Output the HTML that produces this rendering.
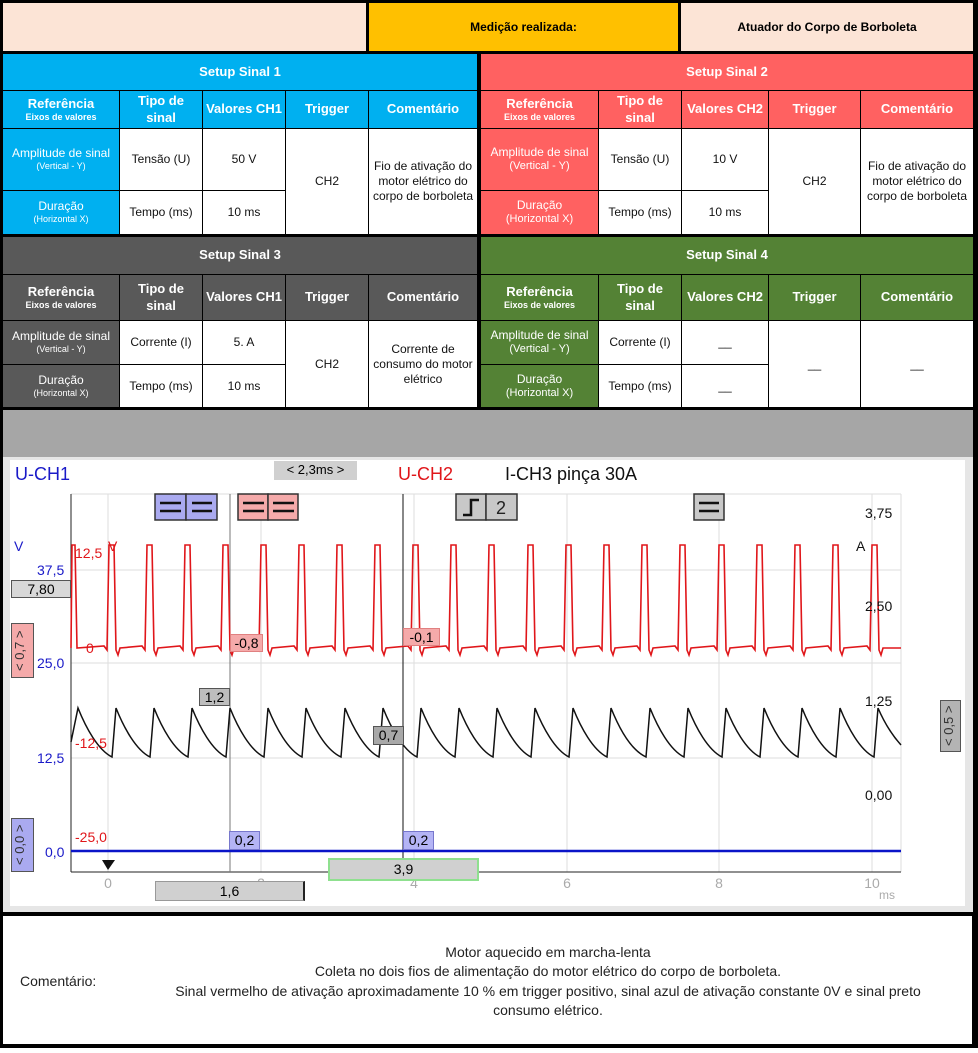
<!DOCTYPE html>
<html><head><meta charset="utf-8"><style>
*{margin:0;padding:0;box-sizing:border-box}
body{width:978px;height:1053px;background:#fff;font-family:"Liberation Sans",sans-serif;position:relative;overflow:hidden}
.abs{position:absolute}
table{position:absolute;border-collapse:separate;border-spacing:1px;background:#000;table-layout:fixed}
td{text-align:center;vertical-align:middle;font-size:12px;color:#111;background:#fff;line-height:1.25}
td.h{color:#fff;font-weight:bold;font-size:13px}
td.r{color:#fff;font-size:12px}
td.r small{font-size:9px;display:block}
td.h small{font-size:9px;display:block}
.b1{background:#00b0f0}.b2{background:#ff6161}.b3{background:#595959}.b4{background:#548235}
.box{position:absolute;font-size:14px;text-align:center;border:1px solid #555}
.vt{position:absolute;writing-mode:vertical-rl;transform:rotate(180deg);font-size:13px;text-align:center;border:1px solid #555}
</style></head><body>
<div class="abs" style="left:0;top:0;width:978px;height:410px;background:#000"></div>
<div class="abs" style="left:3px;top:3px;width:363px;height:48px;background:#fce4d6"></div>
<div class="abs" style="left:369px;top:3px;width:309px;height:48px;background:#ffc000;font-size:12px;font-weight:bold;line-height:48px;text-align:center">Medição realizada:</div>
<div class="abs" style="left:681px;top:3px;width:292px;height:48px;background:#fce4d6;font-size:12px;font-weight:bold;line-height:48px;text-align:center">Atuador do Corpo de Borboleta</div>

<table style="left:2px;top:53px;width:476px;height:182px">
<colgroup><col style="width:116px"><col style="width:82px"><col style="width:82px"><col style="width:82px"><col></colgroup>
<tr style="height:36px"><td class="h b1" colspan="5">Setup Sinal 1</td></tr>
<tr style="height:37px"><td class="h b1">Referência<small>Eixos de valores</small></td><td class="h b1">Tipo de<br>sinal</td><td class="h b1">Valores CH1</td><td class="h b1">Trigger</td><td class="h b1">Comentário</td></tr>
<tr style="height:61px"><td class="r b1">Amplitude de sinal<small>(Vertical - Y)</small></td><td>Tensão (U)</td><td>50 V</td><td rowspan="2">CH2</td><td rowspan="2">Fio de ativação do motor elétrico do corpo de borboleta</td></tr>
<tr><td class="r b1">Duração<small>(Horizontal X)</small></td><td>Tempo (ms)</td><td>10 ms</td></tr>
</table>
<table style="left:480px;top:53px;width:494px;height:182px">
<colgroup><col style="width:117px"><col style="width:82px"><col style="width:86px"><col style="width:91px"><col></colgroup>
<tr style="height:36px"><td class="h b2" colspan="5">Setup Sinal 2</td></tr>
<tr style="height:37px"><td class="h b2">Referência<small>Eixos de valores</small></td><td class="h b2">Tipo de<br>sinal</td><td class="h b2">Valores CH2</td><td class="h b2">Trigger</td><td class="h b2">Comentário</td></tr>
<tr style="height:61px"><td class="r b2">Amplitude de sinal<small style="font-size:11px">(Vertical - Y)</small></td><td>Tensão (U)</td><td>10 V</td><td rowspan="2">CH2</td><td rowspan="2">Fio de ativação do motor elétrico do corpo de borboleta</td></tr>
<tr><td class="r b2">Duração<small style="font-size:11px">(Horizontal X)</small></td><td>Tempo (ms)</td><td>10 ms</td></tr>
</table>
<table style="left:2px;top:236px;width:476px;height:172px">
<colgroup><col style="width:116px"><col style="width:82px"><col style="width:82px"><col style="width:82px"><col></colgroup>
<tr style="height:37px"><td class="h b3" colspan="5">Setup Sinal 3</td></tr>
<tr style="height:45px"><td class="h b3">Referência<small>Eixos de valores</small></td><td class="h b3">Tipo de<br>sinal</td><td class="h b3">Valores CH1</td><td class="h b3">Trigger</td><td class="h b3">Comentário</td></tr>
<tr style="height:43px"><td class="r b3">Amplitude de sinal<small>(Vertical - Y)</small></td><td>Corrente (I)</td><td>5. A</td><td rowspan="2">CH2</td><td rowspan="2">Corrente de<br>consumo do motor<br>elétrico</td></tr>
<tr><td class="r b3">Duração<small>(Horizontal X)</small></td><td>Tempo (ms)</td><td>10 ms</td></tr>
</table>
<table style="left:480px;top:236px;width:494px;height:172px">
<colgroup><col style="width:117px"><col style="width:82px"><col style="width:86px"><col style="width:91px"><col></colgroup>
<tr style="height:37px"><td class="h b4" colspan="5">Setup Sinal 4</td></tr>
<tr style="height:45px"><td class="h b4">Referência<small>Eixos de valores</small></td><td class="h b4">Tipo de<br>sinal</td><td class="h b4">Valores CH2</td><td class="h b4">Trigger</td><td class="h b4">Comentário</td></tr>
<tr style="height:43px"><td class="r b4">Amplitude de sinal<small style="font-size:11px">(Vertical - Y)</small></td><td>Corrente (I)</td><td>__</td><td rowspan="2">__</td><td rowspan="2">__</td></tr>
<tr><td class="r b4">Duração<small style="font-size:11px">(Horizontal X)</small></td><td>Tempo (ms)</td><td>__</td></tr>
</table>

<div class="abs" style="left:0;top:408px;width:978px;height:506px;background:#000"></div>
<div class="abs" style="left:3px;top:410px;width:970px;height:47px;background:#a6a6a6"></div>
<div class="abs" style="left:3px;top:457px;width:970px;height:455px;background:#e6e6e6"></div>
<div class="abs" style="left:10px;top:460px;width:955px;height:446px;background:#fff"></div>

<svg class="abs" style="left:0;top:0" width="978" height="1053" font-family="Liberation Sans, sans-serif">
<g stroke="#ddd" stroke-width="1">
<line x1="71" y1="570" x2="901" y2="570"/><line x1="71" y1="663" x2="901" y2="663"/><line x1="71" y1="758" x2="901" y2="758"/><line x1="71" y1="851" x2="901" y2="851"/>
<line x1="108" y1="494" x2="108" y2="872"/><line x1="261" y1="494" x2="261" y2="872"/><line x1="414" y1="494" x2="414" y2="872"/><line x1="567" y1="494" x2="567" y2="872"/><line x1="719" y1="494" x2="719" y2="872"/><line x1="872" y1="494" x2="872" y2="872"/>
<line x1="71" y1="494" x2="901" y2="494"/><line x1="901" y1="494" x2="901" y2="872"/>
</g>
<line x1="71" y1="494" x2="71" y2="872" stroke="#222"/>
<line x1="71" y1="872" x2="901" y2="872" stroke="#222"/>
<line x1="230" y1="494" x2="230" y2="872" stroke="#777"/>
<line x1="403" y1="494" x2="403" y2="878" stroke="#111"/>
<path fill="none" stroke="#e0161a" stroke-width="1.6" d="M71,648 L72,545 L75,545 L77,648 L104,646 L107,650 L109,545 L114,545 L116,650 L118,655 L120,648
L142,646 L145,650 L147,545 L152,545 L154,650 L156,655 L158,648
L180,646 L183,650 L185,545 L190,545 L192,650 L194,655 L196,648
L218,646 L221,650 L223,545 L228,545 L230,650 L232,655 L234,648
L256,646 L259,650 L261,545 L266,545 L268,650 L270,655 L272,648
L294,646 L297,650 L299,545 L304,545 L306,650 L308,655 L310,648
L332,646 L335,650 L337,545 L342,545 L344,650 L346,655 L348,648
L370,646 L373,650 L375,545 L380,545 L382,650 L384,655 L386,648
L408,646 L411,650 L413,545 L418,545 L420,650 L422,655 L424,648
L446,646 L449,650 L451,545 L456,545 L458,650 L460,655 L462,648
L484,646 L487,650 L489,545 L494,545 L496,650 L498,655 L500,648
L523,646 L526,650 L528,545 L533,545 L535,650 L537,655 L539,648
L561,646 L564,650 L566,545 L571,545 L573,650 L575,655 L577,648
L599,646 L602,650 L604,545 L609,545 L611,650 L613,655 L615,648
L637,646 L640,650 L642,545 L647,545 L649,650 L651,655 L653,648
L675,646 L678,650 L680,545 L685,545 L687,650 L689,655 L691,648
L714,646 L717,650 L719,545 L724,545 L726,650 L728,655 L730,648
L752,646 L755,650 L757,545 L762,545 L764,650 L766,655 L768,648
L790,646 L793,650 L795,545 L800,545 L802,650 L804,655 L806,648
L828,646 L831,650 L833,545 L838,545 L840,650 L842,655 L844,648
L867,646 L870,650 L872,545 L877,545 L879,650 L881,655 L883,648 L901,648"/>
<path fill="none" stroke="#111" stroke-width="1.5" d="M71,742 L78,708 C86,728 98,750 112,757
L116,708 C124,728 136,750 150,757 L154,708 C162,728 174,750 188,757 L192,708 C200,728 212,750 226,757
L230,708 C238,728 250,750 264,757 L268,708 C276,728 288,750 302,757 L306,708 C314,728 326,750 341,757
L345,708 C353,728 365,750 379,757 L383,708 C391,728 403,750 417,757 L421,708 C429,728 441,750 455,757
L459,708 C467,728 479,750 493,757 L497,708 C505,728 517,750 531,757 L535,708 C543,728 555,750 569,757
L573,708 C581,728 593,750 607,757 L611,708 C619,728 631,750 646,757 L650,708 C658,728 670,750 684,757
L688,708 C696,728 708,750 722,757 L726,708 C734,728 746,750 760,757 L764,708 C772,728 784,750 798,757
L802,708 C810,728 822,750 836,757 L840,708 C848,728 860,750 874,757 L878,708 C884,722 892,735 901,745"/>
<line x1="71" y1="851" x2="901" y2="851" stroke="#0a14c8" stroke-width="2.5"/>
<polygon points="102,860 115,860 108,870" fill="#111"/>
<g font-size="18"><text x="15" y="480" fill="#1a1ac8">U-CH1</text><text x="398" y="480" fill="#e0161a">U-CH2</text><text x="505" y="480" fill="#111">I-CH3 pinça 30A</text></g>
<g font-size="14" fill="#1a1ac8"><text x="14" y="551">V</text><text x="37" y="575">37,5</text><text x="37" y="668">25,0</text><text x="37" y="763">12,5</text><text x="45" y="857">0,0</text></g>
<g font-size="14" fill="#e0161a"><text x="75" y="558">12,5</text><text x="86" y="653">0</text><text x="75" y="748">-12,5</text><text x="75" y="842">-25,0</text><text x="108" y="551">V</text></g>
<g font-size="14" fill="#111"><text x="865" y="518">3,75</text><text x="856" y="551">A</text><text x="865" y="611">2,50</text><text x="865" y="706">1,25</text><text x="865" y="800">0,00</text></g>
<g font-size="14" fill="#aaa" text-anchor="middle"><text x="108" y="888">0</text><text x="261" y="888">2</text><text x="414" y="888">4</text><text x="567" y="888">6</text><text x="719" y="888">8</text><text x="872" y="888">10</text><text x="887" y="899" font-size="12">ms</text></g>
<g stroke="#333" stroke-width="1.5">
<rect x="155" y="494" width="31" height="26" fill="#aaaaf0"/><rect x="186" y="494" width="31" height="26" fill="#aaaaf0"/>
<rect x="238" y="494" width="30" height="26" fill="#f5aaaa"/><rect x="268" y="494" width="30" height="26" fill="#f5aaaa"/>
<rect x="456" y="494" width="30" height="26" fill="#c8c8c8"/><rect x="486" y="494" width="31" height="26" fill="#c8c8c8"/>
<rect x="694" y="494" width="30" height="26" fill="#c8c8c8"/>
</g>
<g stroke="#111" stroke-width="2.5">
<line x1="160" y1="503" x2="181" y2="503"/><line x1="160" y1="511" x2="181" y2="511"/>
<line x1="192" y1="503" x2="212" y2="503"/><line x1="192" y1="511" x2="212" y2="511"/>
<line x1="243" y1="503" x2="264" y2="503"/><line x1="243" y1="511" x2="264" y2="511"/>
<line x1="273" y1="503" x2="294" y2="503"/><line x1="273" y1="511" x2="294" y2="511"/>
<line x1="699" y1="503" x2="719" y2="503"/><line x1="699" y1="511" x2="719" y2="511"/>
<polyline points="463,515 471,515 471,500 479,500" fill="none"/>
</g>
<text x="501" y="514" font-size="18" text-anchor="middle" fill="#222">2</text>
</svg>

<div class="box" style="left:274px;top:461px;width:83px;height:19px;background:#d0d0d0;font-size:13px;line-height:17px;border:none">&lt; 2,3ms &gt;</div>
<div class="box" style="left:11px;top:580px;width:60px;height:18px;background:#d8d8d8;line-height:16px">7,80</div>
<div class="vt" style="left:11px;top:623px;width:23px;height:55px;background:#f5aaaa;color:#333">&lt; 0,7 &gt;</div>
<div class="vt" style="left:11px;top:818px;width:23px;height:54px;background:#aaaaf0;color:#333">&lt; 0,0 &gt;</div>
<div class="vt" style="left:940px;top:700px;width:21px;height:52px;background:#b4b4b4;color:#333">&lt; 0,5 &gt;</div>
<div class="box" style="left:199px;top:688px;width:31px;height:18px;background:#bdbdbd;line-height:16px">1,2</div>
<div class="box" style="left:373px;top:726px;width:31px;height:19px;background:#a8a8a8;line-height:17px">0,7</div>
<div class="box" style="left:230px;top:634px;width:33px;height:18px;background:#f5aaaa;line-height:16px;border-color:#e08080">-0,8</div>
<div class="box" style="left:403px;top:628px;width:37px;height:18px;background:#f5aaaa;line-height:16px;border-color:#e08080">-0,1</div>
<div class="box" style="left:229px;top:831px;width:31px;height:19px;background:#b4b4f5;line-height:17px;border-color:#7777cc">0,2</div>
<div class="box" style="left:403px;top:831px;width:31px;height:19px;background:#b4b4f5;line-height:17px;border-color:#7777cc">0,2</div>
<div class="box" style="left:328px;top:858px;width:151px;height:23px;background:#d0d0d0;line-height:19px;border:2px solid #8fe08f">3,9</div>
<div class="box" style="left:155px;top:881px;width:150px;height:20px;background:#d0d0d0;line-height:18px;border-color:#999;border-right:2px solid #222">1,6</div>

<div class="abs" style="left:0;top:912px;width:978px;height:136px;background:#000"></div>
<div class="abs" style="left:3px;top:916px;width:969px;height:128px;background:#fff"></div>
<div class="abs" style="left:20px;top:973px;font-size:14px;color:#222">Comentário:</div>
<div class="abs" style="left:128px;top:943px;width:840px;text-align:center;font-size:14px;line-height:19.3px;color:#222">Motor aquecido em marcha-lenta<br>Coleta no dois fios de alimentação do motor elétrico do corpo de borboleta.<br>Sinal vermelho de ativação aproximadamente 10 % em trigger positivo, sinal azul de ativação constante 0V e sinal preto<br>consumo elétrico.</div>
</body></html>
